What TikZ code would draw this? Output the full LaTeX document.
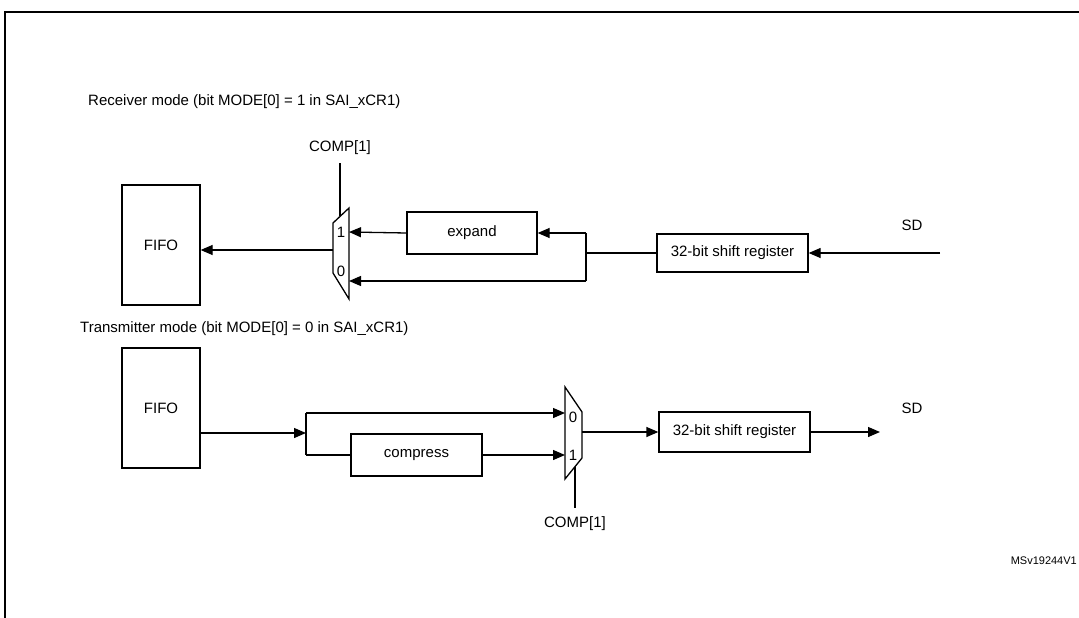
\documentclass[tikz,border=0pt]{standalone}
\usepackage{fontspec}
\setmainfont{Liberation Sans}
\usetikzlibrary{arrows.meta}
\begin{document}
\begin{tikzpicture}[x=1pt,y=-1pt,
  lbl/.style={font=\fontsize{15}{17}\selectfont, inner sep=0},
  box/.style={draw, line width=1.3pt, font=\fontsize{15}{17}\selectfont, inner sep=0},
  ln/.style={line width=1.3pt},
  arr/.style={ln,-{Triangle[length=12pt,width=10pt]}}]
\useasboundingbox (0,0) rectangle (1079,618);
\draw[line width=1.6pt] (5,618) -- (5,12) -- (1079,12);
% Receiver
\node[lbl,anchor=west] (rt) at (88,102) {Receiver mode (bit MODE[0] = 1 in SAI\_xCR1)};
\node[box,minimum width=78pt,minimum height=120pt] (f1) at (161,245) {FIFO};
\draw[ln] (349,208) -- (333,223) -- (333,273) -- (349,299) -- cycle;
\coordinate (m1o) at (333,250);
\coordinate (m1a) at (349,232);
\coordinate (m1b) at (349,281);
\node[lbl] (m1l1) at (341,232) {1};
\node[lbl] (m1l0) at (341,271) {0};
\node[lbl] (c1) at (340,148) {COMP[1]};
\coordinate (c1a) at (340,163);
\coordinate (c1b) at (340,216);
\draw[ln] (c1a) -- (c1b);
\draw[arr] (m1o) -- (f1.east |- m1o);
\node[box,minimum width=130pt,minimum height=42pt] (ex) at (472,233) {expand};
\node[box,minimum width=151pt,minimum height=38pt] (sr1) at (732.5,253) {32-bit shift register};
\coordinate (b1) at (586,253);
\coordinate (b1t) at (586,233);
\coordinate (b1b) at (586,281);
\draw[ln] (sr1.west) -- (b1);
\draw[ln] (b1b) -- (b1t);
\draw[arr] (b1t) -- (ex.east);
\draw[arr] (ex.west) -- (m1a);
\draw[arr] (b1b) -- (m1b);
\coordinate (sd1) at (940,253);
\draw[arr] (sd1) -- (sr1.east);
\node[lbl] (sdl1) at (912,225) {SD};
% Transmitter
\node[lbl,anchor=west] (tt) at (80,329) {Transmitter mode (bit MODE[0] = 0 in SAI\_xCR1)};
\node[box,minimum width=78pt,minimum height=120pt] (f2) at (161,408) {FIFO};
\coordinate (b2) at (306,433);
\coordinate (b2t) at (306,413);
\coordinate (b2b) at (306,455);
\draw[arr] (f2.east |- b2) -- (b2);
\draw[ln] (b2t) -- (b2b);
\draw[ln] (565,387) -- (582,412) -- (582,458) -- (565,479) -- cycle;
\coordinate (m2a) at (565,413);
\coordinate (m2b) at (565,455);
\coordinate (m2o) at (582,432);
\node[lbl] (m2l0) at (573,417) {0};
\node[lbl] (m2l1) at (573,455) {1};
\node[box,minimum width=131pt,minimum height=42pt] (cp) at (416.5,455) {compress};
\draw[arr] (b2t) -- (m2a);
\draw[ln] (b2b) -- (cp.west);
\draw[arr] (cp.east) -- (m2b);
\node[box,minimum width=151pt,minimum height=40pt] (sr2) at (734.5,432) {32-bit shift register};
\draw[arr] (m2o) -- (sr2.west);
\coordinate (sd2) at (880,432);
\draw[arr] (sr2.east) -- (sd2);
\node[lbl] (sdl2) at (912,408) {SD};
\coordinate (c2a) at (575,467);
\coordinate (c2b) at (575,508);
\draw[ln] (c2a) -- (c2b);
\node[lbl] (c2) at (575,524) {COMP[1]};
\node[font=\fontsize{11}{13}\selectfont,inner sep=0,anchor=east] (id) at (1077,561) {MSv19244V1};
\end{tikzpicture}
\end{document}
